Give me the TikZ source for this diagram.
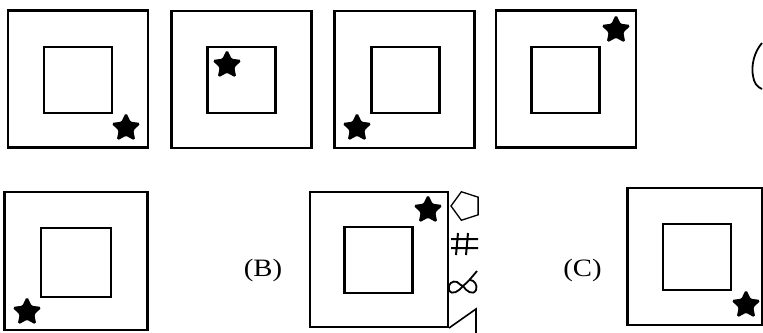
\documentclass[tikz,border=0pt]{standalone}
\usepackage{fontspec}
\setmainfont{Liberation Serif}
\usepackage{tikz}
\usetikzlibrary{shapes.geometric}

\begin{document}
\begin{tikzpicture}[
  x=1pt,y=-1pt,
  outer/.style={draw,line width=2.8pt,minimum width=140pt,minimum height=137pt,inner sep=0pt},
  inner/.style={draw,line width=2.8pt,minimum width=68pt,minimum height=66pt,inner sep=0pt},
  starmark/.style={star,star points=5,star point ratio=2.05,fill=black,draw=black,line width=1.2pt,rounded corners=1.5pt,minimum size=29pt,inner sep=0pt},
  optlabel/.style={font=\fontsize{25}{25}\selectfont,inner sep=0pt},
  sidemark/.style={line width=1.3pt}
]
\useasboundingbox (0,0) rectangle (763,332);
% top row
\node[outer] (box1) at (78,79) {};
\node[inner] (in1) at (78,80) {};
\node[starmark] (star1) at (126,128) {};
\node[outer] (box2) at (241.5,79.5) {};
\node[inner] (in2) at (241.5,80) {};
\node[starmark] (star2) at (227,65) {};
\node[outer] (box3) at (404.5,79.5) {};
\node[inner] (in3) at (405.5,80) {};
\node[starmark] (star3) at (357,128) {};
\node[outer] (box4) at (566,79) {};
\node[inner] (in4) at (565.5,80) {};
\node[starmark] (star4) at (616,30) {};
\draw[line width=1.8pt] (762,43) .. controls (754,52) and (751,66) .. (753,76) .. controls (754,83) and (757,87) .. (762,89);
% bottom row
\node[outer,minimum width=143pt,minimum height=138pt] (box5) at (76,261) {};
\node[inner,minimum width=70pt,minimum height=69pt] (in5) at (76,262.5) {};
\node[starmark] (star5) at (27,312) {};
\node[optlabel] (labB) at (263,270) {\scalebox{1.15}[1]{(B)}};
\node[outer,minimum width=138pt,minimum height=135pt] (box6) at (379,259.5) {};
\node[inner] (in6) at (378.5,260) {};
\node[starmark] (star6) at (428,210) {};
% symbols beside the answer figure
\node[regular polygon,regular polygon sides=5,draw,sidemark,minimum size=30pt,inner sep=0pt,rotate=90] (penta) at (466,206) {};
\draw[line width=2pt] (451,239) -- (478,239) (451,248) -- (478,248)
  (458,233) -- (456,255) (468,233) -- (466,255);
\draw[line width=1.8pt] (477,271) .. controls (472,277) and (468,282) .. (463,286)
  .. controls (459,291) and (452,296) .. (449,290) .. controls (447,284) and (453,280) .. (457,282)
  .. controls (460,284) and (461,286) .. (463,286) .. controls (466,291) and (473,296) .. (476,290)
  .. controls (478,285) and (474,280) .. (470,280);
\draw[sidemark,line width=1.6pt] (476,340) -- (476,309) -- (449,328);
\node[optlabel] (labC) at (582.5,270) {\scalebox{1.15}[1]{(C)}};
\node[outer,minimum width=135pt,minimum height=137pt] (box7) at (695,256.5) {};
\node[inner] (in7) at (697,257) {};
\node[starmark] (star7) at (746,305) {};
\end{tikzpicture}
\end{document}
